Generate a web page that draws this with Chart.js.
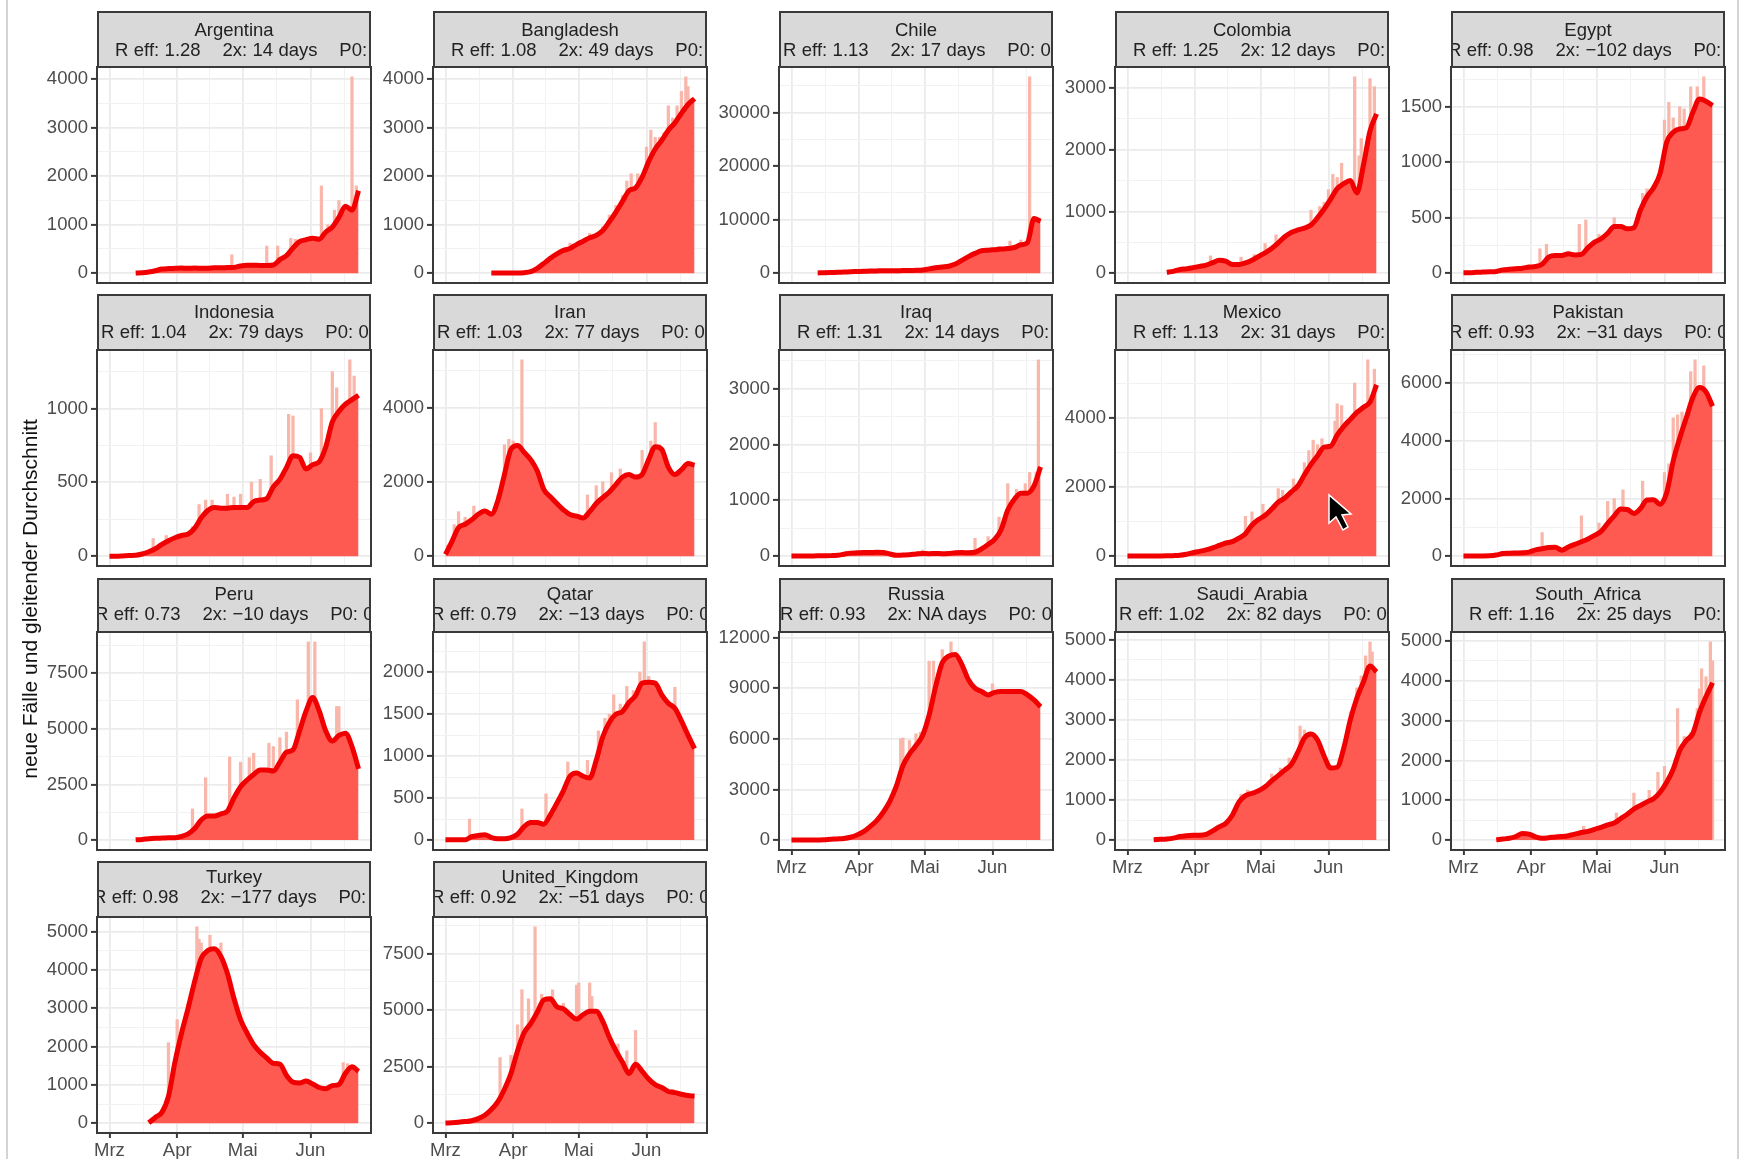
<!DOCTYPE html>
<html>
<head>
<meta charset="utf-8">
<title>neue Fälle</title>
<script src="https://cdn.jsdelivr.net/npm/chart.js@4/dist/chart.umd.min.js"></script>
<style>
  html, body { margin: 0; padding: 0; background: #fff; }
  #page { position: relative; width: 1739px; height: 1159px; overflow: hidden; font-family: "Liberation Sans", sans-serif; filter: blur(0.55px); }
  #page canvas { position: absolute; }
  .strip { position: absolute; box-sizing: border-box; background: #d9d9d9; border: 2px solid #3a3a3a; overflow: hidden; color: #222; font-size: 18.5px; line-height: 20px; }
  .strip .name { position: absolute; left: 0; right: 0; text-align: center; }
  .strip .stats { position: absolute; white-space: pre; word-spacing: 0.3px; }
  #ytitle { position: absolute; left: 30px; top: 599px; transform: translate(-50%, -50%) rotate(-90deg); white-space: nowrap; font-size: 21px; color: #111; }
  .edge { position: absolute; top: 0; width: 2px; height: 1159px; background: #d4d4d4; }
  #cursor { position: absolute; left: 1326px; top: 492px; }
</style>
</head>
<body>
<div id="page">
  <div class="edge" style="left:6px"></div>
  <div class="edge" style="left:1737px"></div>
  <div id="ytitle">neue Fälle und gleitender Durchschnitt</div>
</div>
<script>
// days since 1 March, the trend values below are read every third day
const trendDays = [0,3,6,9,12,15,18,21,24,27,30,33,36,39,42,45,48,51,54,57,60,63,66,69,72,75,78,81,84,87,90,93,96,99,102,105,108,111,114];
const monthDays = [0, 31, 61, 92];
const monthNames = ['Mrz', 'Apr', 'Mai', 'Jun'];

const countries = ['Argentina','Bangladesh','Chile','Colombia','Egypt','Indonesia','Iran','Iraq','Mexico','Pakistan','Peru','Qatar','Russia','Saudi_Arabia','South_Africa','Turkey','United_Kingdom'];
const rEff = ['1.28','1.08','1.13','1.25','0.98','1.04','1.03','1.31','1.13','0.93','0.73','0.79','0.93','1.02','1.16','0.98','0.92'];
const doubling = ['14','49','17','12','−102','79','77','14','31','−31','−10','−13','NA','82','25','−177','−51'];
const p0 = ['0','0','0.','0','0','0.','0.','0','0','0','0','0','0.','0.','0','0','0'];

const trendArgentina = [null,null,null,null,5,10,25,50,85,95,100,105,100,105,100,100,110,110,115,120,150,165,165,160,160,170,280,360,520,650,690,720,700,850,950,1150,1380,1300,1700];
const trendBangladesh = [null,null,null,null,null,null,null,5,5,5,5,5,10,30,100,200,310,400,470,510,590,660,730,780,880,1060,1260,1480,1700,1760,1980,2300,2560,2740,2950,3100,3300,3480,3600];
const trendChile = [null,null,null,null,50,80,120,170,200,280,320,350,400,430,470,460,470,480,490,530,600,800,1000,1150,1300,1700,2400,3100,3700,4200,4300,4400,4500,4600,4800,5300,5700,10200,9700];
const trendColombia = [null,null,null,null,null,null,15,30,60,70,90,110,130,170,210,195,140,140,165,210,270,330,400,490,590,660,700,730,780,900,1040,1200,1370,1450,1500,1300,1750,2300,2580];
const trendEgypt = [5,5,8,10,12,15,30,35,40,45,55,60,80,145,160,160,175,165,170,230,280,310,360,420,420,400,410,570,690,770,900,1180,1270,1300,1310,1450,1570,1550,1510];
const trendIndonesia = [0,0,2,5,6,15,30,50,80,105,125,140,150,190,260,310,330,325,325,330,330,330,370,380,390,470,520,600,680,670,590,620,640,740,910,980,1030,1060,1090];
const trendIran = [50,400,770,860,980,1130,1220,1130,1500,2200,2880,2980,2800,2600,2300,1800,1600,1420,1250,1120,1080,1030,1200,1420,1580,1730,1930,2130,2200,2130,2200,2600,2950,2880,2400,2200,2330,2500,2450];
const trendIraq = [2,3,4,5,6,8,10,15,35,55,60,65,65,70,65,40,15,20,25,40,50,45,50,45,50,60,65,60,70,130,210,300,480,830,1020,1130,1130,1260,1600];
const trendMexico = [2,3,3,4,4,6,10,15,25,55,100,140,180,240,310,380,420,520,650,900,1060,1180,1360,1560,1680,1860,2030,2350,2650,2900,3150,3180,3500,3750,3950,4150,4300,4450,4950];
const trendPakistan = [5,5,10,10,15,40,90,100,110,120,140,220,260,300,310,210,320,410,500,600,720,860,1140,1400,1640,1620,1480,1650,1950,1960,1800,2200,3300,4100,4800,5500,5850,5700,5200];
const trendPeru = [null,null,null,null,10,30,60,80,90,100,110,170,280,520,900,1080,1080,1180,1300,1900,2400,2700,2950,3150,3150,3100,3500,3950,4050,4900,5800,6400,5800,4900,4450,4700,4800,4200,3200];
const trendQatar = [5,5,5,5,40,55,65,30,15,15,30,70,160,210,210,190,300,440,590,760,800,760,740,950,1230,1400,1500,1530,1640,1720,1870,1880,1870,1730,1630,1570,1420,1250,1090];
const trendRussia = [2,3,5,5,10,20,50,70,100,170,300,500,800,1150,1650,2300,3200,4400,5100,5600,6200,7400,9100,10500,10900,11000,10400,9500,9000,8800,8600,8750,8800,8800,8800,8800,8600,8300,7900];
const trendSaudi = [null,null,null,null,10,20,30,50,90,110,120,120,140,230,330,420,620,950,1110,1170,1230,1330,1480,1610,1750,1890,2200,2550,2650,2500,2100,1800,1820,2300,3000,3550,3950,4350,4200];
const trendSouthAfrica = [null,null,null,null,null,5,25,45,90,165,150,80,45,60,80,90,110,150,190,220,270,320,380,430,540,650,780,870,960,1040,1200,1450,1780,2250,2500,2680,3200,3600,3950];
const trendTurkey = [null,null,null,null,null,null,10,150,280,700,1600,2350,3000,3700,4300,4500,4550,4350,3900,3250,2700,2350,2050,1850,1700,1560,1540,1250,1070,1050,1100,1020,930,900,980,1010,1300,1470,1350];
const trendUK = [10,20,40,70,110,200,350,600,950,1500,2200,3200,4000,4400,4900,5450,5500,5150,5050,4800,4600,4800,4950,4950,4500,3800,3200,2700,2200,2600,2300,1950,1700,1580,1400,1350,1280,1220,1200];

// daily reports that stick out above the trend: [day, cases]
const rawArgentina = [[56,380],[72,560],[77,560],[83,720],[85,700],[97,1800],[100,1000],[103,1300],[105,1500],[108,1300],[111,4050],[113,1800]];
const rawBangladesh = [[57,620],[66,820],[72,960],[75,1200],[78,1400],[81,1600],[83,1900],[85,2050],[88,2050],[91,2050],[92,2600],[94,2950],[96,2800],[98,2800],[100,2900],[102,3450],[104,3200],[106,3450],[108,3750],[110,4050],[111,3850],[112,3600]];
const rawChile = [[72,1500],[80,3000],[95,5000],[100,6000],[105,6200],[109,36700],[111,10500],[113,10300]];
const rawColombia = [[38,280],[52,260],[58,300],[63,480],[68,620],[70,560],[75,700],[84,1020],[88,1080],[90,1150],[92,1350],[94,1600],[96,1550],[97,1350],[98,1780],[100,1500],[104,3180],[106,1900],[107,2180],[109,2000],[111,3150],[113,3020]];
const rawEgypt = [[35,220],[38,260],[53,440],[56,480],[62,350],[69,500],[82,720],[84,760],[88,830],[92,1380],[94,1540],[96,1400],[99,1500],[101,1480],[104,1680],[107,1680],[110,1770]];
const rawIndonesia = [[20,120],[26,140],[38,200],[41,350],[44,380],[47,380],[54,420],[57,400],[60,420],[65,500],[69,520],[74,680],[82,960],[84,950],[92,700],[97,1000],[102,1250],[104,1140],[110,1330],[112,1220]];
const rawIran = [[1,300],[4,850],[6,1200],[9,1050],[13,1350],[17,1230],[24,1650],[27,3000],[29,3150],[31,3100],[35,5290],[40,2600],[65,1650],[69,1900],[72,2000],[76,2250],[80,2350],[90,2850],[94,3100],[96,3600],[98,3000]];
const rawIraq = [[38,100],[60,110],[84,320],[90,350],[95,700],[99,1300],[103,1200],[107,1300],[109,1500],[112,1500],[113,3520]];
const rawMexico = [[54,1150],[57,1280],[62,1500],[69,1950],[71,1900],[76,2230],[81,2700],[83,3050],[85,3350],[87,3220],[89,3390],[95,3900],[96,4400],[98,4350],[104,5000],[110,5670],[113,5400]];
const rawPakistan = [[36,820],[54,1400],[62,1150],[66,1900],[69,2000],[73,2300],[82,2600],[85,2000],[92,2900],[94,3200],[96,4800],[98,4900],[100,5000],[104,6400],[106,6810],[110,6600],[112,5000]];
const rawPeru = [[38,1400],[44,2800],[55,3730],[60,3500],[64,3700],[66,3900],[73,4350],[75,4200],[78,4600],[81,4850],[86,6300],[91,8900],[94,8900],[104,6000],[105,6000]];
const rawQatar = [[11,250],[35,370],[46,550],[56,930],[65,950],[70,1300],[73,1450],[75,1500],[77,1730],[80,1620],[83,1830],[86,1780],[89,2000],[91,2360],[93,1950],[105,1820]];
const rawRussia = [[50,6000],[51,6050],[54,5900],[57,6300],[59,6400],[63,10600],[65,10600],[69,11280],[73,11740],[76,11000],[92,9250]];
const rawSaudi = [[52,1150],[55,1250],[66,1650],[70,1800],[74,2050],[79,2850],[81,2750],[97,2050],[102,3200],[105,3800],[107,4100],[109,4600],[111,4950],[112,4700]];
const rawSouthAfrica = [[55,350],[70,680],[78,1180],[85,1250],[89,1700],[92,1850],[97,2000],[98,3300],[101,2600],[104,2700],[107,3300],[108,3800],[109,4300],[111,4100],[113,4975],[114,4500]];
const rawTurkey = [[27,2100],[31,2700],[36,3100],[40,5120],[41,4800],[42,4700],[46,4900],[51,4700],[105,1000],[107,1580],[109,1550]];
const rawUK = [[25,2900],[30,3000],[33,4350],[35,5900],[38,5500],[41,8680],[44,5700],[49,5900],[54,5300],[60,6100],[61,6200],[66,6200],[67,5600],[79,3500],[83,3200],[87,4100],[104,1500]];

const ticksArgentina = [0,1000,2000,3000,4000];
const ticksBangladesh = [0,1000,2000,3000,4000];
const ticksChile = [0,10000,20000,30000];
const ticksColombia = [0,1000,2000,3000];
const ticksEgypt = [0,500,1000,1500];
const ticksIndonesia = [0,500,1000];
const ticksIran = [0,2000,4000];
const ticksIraq = [0,1000,2000,3000];
const ticksMexico = [0,2000,4000];
const ticksPakistan = [0,2000,4000,6000];
const ticksPeru = [0,2500,5000,7500];
const ticksQatar = [0,500,1000,1500,2000];
const ticksRussia = [0,3000,6000,9000,12000];
const ticksSaudi = [0,1000,2000,3000,4000,5000];
const ticksSouthAfrica = [0,1000,2000,3000,4000,5000];
const ticksTurkey = [0,1000,2000,3000,4000,5000];
const ticksUK = [0,2500,5000,7500];

const trends = [trendArgentina,trendBangladesh,trendChile,trendColombia,trendEgypt,trendIndonesia,trendIran,trendIraq,trendMexico,trendPakistan,trendPeru,trendQatar,trendRussia,trendSaudi,trendSouthAfrica,trendTurkey,trendUK];
const raws = [rawArgentina,rawBangladesh,rawChile,rawColombia,rawEgypt,rawIndonesia,rawIran,rawIraq,rawMexico,rawPakistan,rawPeru,rawQatar,rawRussia,rawSaudi,rawSouthAfrica,rawTurkey,rawUK];
const yTicks = [ticksArgentina,ticksBangladesh,ticksChile,ticksColombia,ticksEgypt,ticksIndonesia,ticksIran,ticksIraq,ticksMexico,ticksPakistan,ticksPeru,ticksQatar,ticksRussia,ticksSaudi,ticksSouthAfrica,ticksTurkey,ticksUK];

// layout of the facets
const colLeft = [97, 433, 779, 1115, 1451];
const panelWidth = 274;
const stripTop = [11, 294, 578, 861];
const plotTop = [67, 350, 632, 917];
const plotBottom = [283, 566, 850, 1133];
const nameTop = [7, 6, 4, 4];
const statsLeft = [18,18,4,18,-3,4,4,18,18,-2,-2,-2,1,4,18,-4,-2];
const marginLeft = 60, marginTop = 12, labelBand = 26;
const xMin = -5.7, xMax = 119.7;
const statGap = '    ';

const page = document.getElementById('page');

const borderPlugin = {
  id: 'panelBorder',
  afterDraw(chart) {
    const a = chart.chartArea, ctx = chart.ctx;
    ctx.save();
    ctx.strokeStyle = '#3a3a3a';
    ctx.lineWidth = 2;
    ctx.strokeRect(a.left, a.top, a.right - a.left, a.bottom - a.top);
    ctx.restore();
  }
};

function minorBetween(values, lo, hi) {
  // ggplot style minor breaks, half way between the major ones
  const step = values[1] - values[0];
  const out = [];
  for (let v = values[0] - step / 2; v <= values[values.length - 1] + step / 2; v += step) out.push(v);
  return out.filter(v => v > lo && v < hi);
}

// grid and tick styles are asked for with and without a tick in the context
function isMajor(ctx, list) {
  return !!ctx.tick && list.includes(ctx.tick.value);
}

countries.forEach((name, i) => {
  const row = Math.floor(i / 5), col = i % 5;
  const left = colLeft[col];
  const hasLabels = i >= 12;

  const strip = document.createElement('div');
  strip.className = 'strip';
  strip.style.left = left + 'px';
  strip.style.top = stripTop[row] + 'px';
  strip.style.width = panelWidth + 'px';
  strip.style.height = (plotTop[row] - stripTop[row] + 1) + 'px';
  strip.innerHTML = '<div class="name" style="top:' + nameTop[row] + 'px">' + name + '</div><div class="stats" style="top:' + (nameTop[row] + 20) + 'px;left:' + (statsLeft[i] - 2) + 'px">R eff: ' + rEff[i] + statGap + '2x: ' + doubling[i] + ' days' + statGap + 'P0: ' + p0[i] + '</div>';
  page.appendChild(strip);

  const plotH = plotBottom[row] - plotTop[row];
  const bottomBand = hasLabels ? labelBand : 2;
  const canvas = document.createElement('canvas');
  canvas.width = marginLeft + panelWidth + 2;
  canvas.height = marginTop + plotH + bottomBand;
  canvas.style.left = (left - marginLeft) + 'px';
  canvas.style.top = (plotTop[row] - marginTop) + 'px';
  page.appendChild(canvas);

  const trendPoints = trendDays.map((d, k) => ({ x: d, y: trends[i][k] }));
  const rawPoints = raws[i].map(p => ({ x: p[0], y: p[1] }));

  // free y scale with 5 % expansion of the data range, same as the facets
  const top = Math.max(...trends[i].filter(v => v !== null), ...raws[i].map(p => p[1]));
  const yMin = -0.05 * top, yMax = 1.05 * top;

  const yMajor = yTicks[i];
  const yMinor = minorBetween(yMajor, yMin, yMax);
  const xMinor = [15.5, 46, 76.5, 107.5];

  new Chart(canvas.getContext('2d'), {
    type: 'bar',
    data: {
      datasets: [
        {
          type: 'line',
          data: trendPoints,
          borderColor: '#f00000',
          borderWidth: 5,
          backgroundColor: '#ff5a52',
          fill: 'origin',
          pointRadius: 0,
          cubicInterpolationMode: 'monotone',
          borderJoinStyle: 'round',
          order: 1
        },
        {
          data: rawPoints,
          backgroundColor: '#f9b7ab',
          barThickness: 2.6,
          order: 2
        }
      ]
    },
    options: {
      responsive: false,
      animation: false,
      devicePixelRatio: 1,
      layout: { padding: { top: marginTop, right: 2, left: 0, bottom: 0 } },
      plugins: { legend: { display: false }, tooltip: { enabled: false } },
      scales: {
        x: {
          type: 'linear',
          min: xMin,
          max: xMax,
          offset: false,
          border: { display: false },
          grid: {
            offset: false,
            color: ctx => isMajor(ctx, monthDays) ? '#ebebeb' : '#f2f2f2',
            lineWidth: ctx => isMajor(ctx, monthDays) ? 1.8 : 1,
            drawTicks: hasLabels,
            tickLength: 5,
            tickWidth: 2,
            tickColor: ctx => isMajor(ctx, monthDays) ? '#3a3a3a' : 'rgba(0,0,0,0)'
          },
          ticks: {
            display: hasLabels,
            autoSkip: false,
            maxRotation: 0,
            padding: 2,
            color: '#4d4d4d',
            font: { family: 'Liberation Sans', size: 18.5 },
            callback: v => monthDays.includes(v) ? monthNames[monthDays.indexOf(v)] : ''
          },
          afterBuildTicks: s => { s.ticks = monthDays.concat(xMinor).map(v => ({ value: v })); },
          afterFit: s => { s.height = bottomBand; s.paddingLeft = 0; s.paddingRight = 0; }
        },
        y: {
          type: 'linear',
          min: yMin,
          max: yMax,
          border: { display: false },
          grid: {
            color: ctx => isMajor(ctx, yMajor) ? '#ebebeb' : '#f2f2f2',
            lineWidth: ctx => isMajor(ctx, yMajor) ? 1.8 : 1,
            tickLength: 6,
            tickWidth: 2,
            tickColor: ctx => isMajor(ctx, yMajor) ? '#3a3a3a' : 'rgba(0,0,0,0)'
          },
          ticks: {
            autoSkip: false,
            padding: 3,
            color: '#4d4d4d',
            font: { family: 'Liberation Sans', size: 18.5 },
            callback: v => yMajor.includes(v) ? String(v) : ''
          },
          afterBuildTicks: s => { s.ticks = yMajor.concat(yMinor).map(v => ({ value: v })); },
          afterFit: s => { s.width = marginLeft; s.paddingTop = 0; s.paddingBottom = 0; }
        }
      }
    },
    plugins: [borderPlugin]
  });
});

// the mouse pointer caught in the screenshot
page.insertAdjacentHTML('beforeend', '<svg id="cursor" width="30" height="44" viewBox="0 0 30 44"><path d="M3 3 L3 31 L10 25 L17 38 L22 35 L16 23 L25 22 Z" fill="#000" stroke="#fff" stroke-width="1.5"/></svg>');
</script>
</body>
</html>
